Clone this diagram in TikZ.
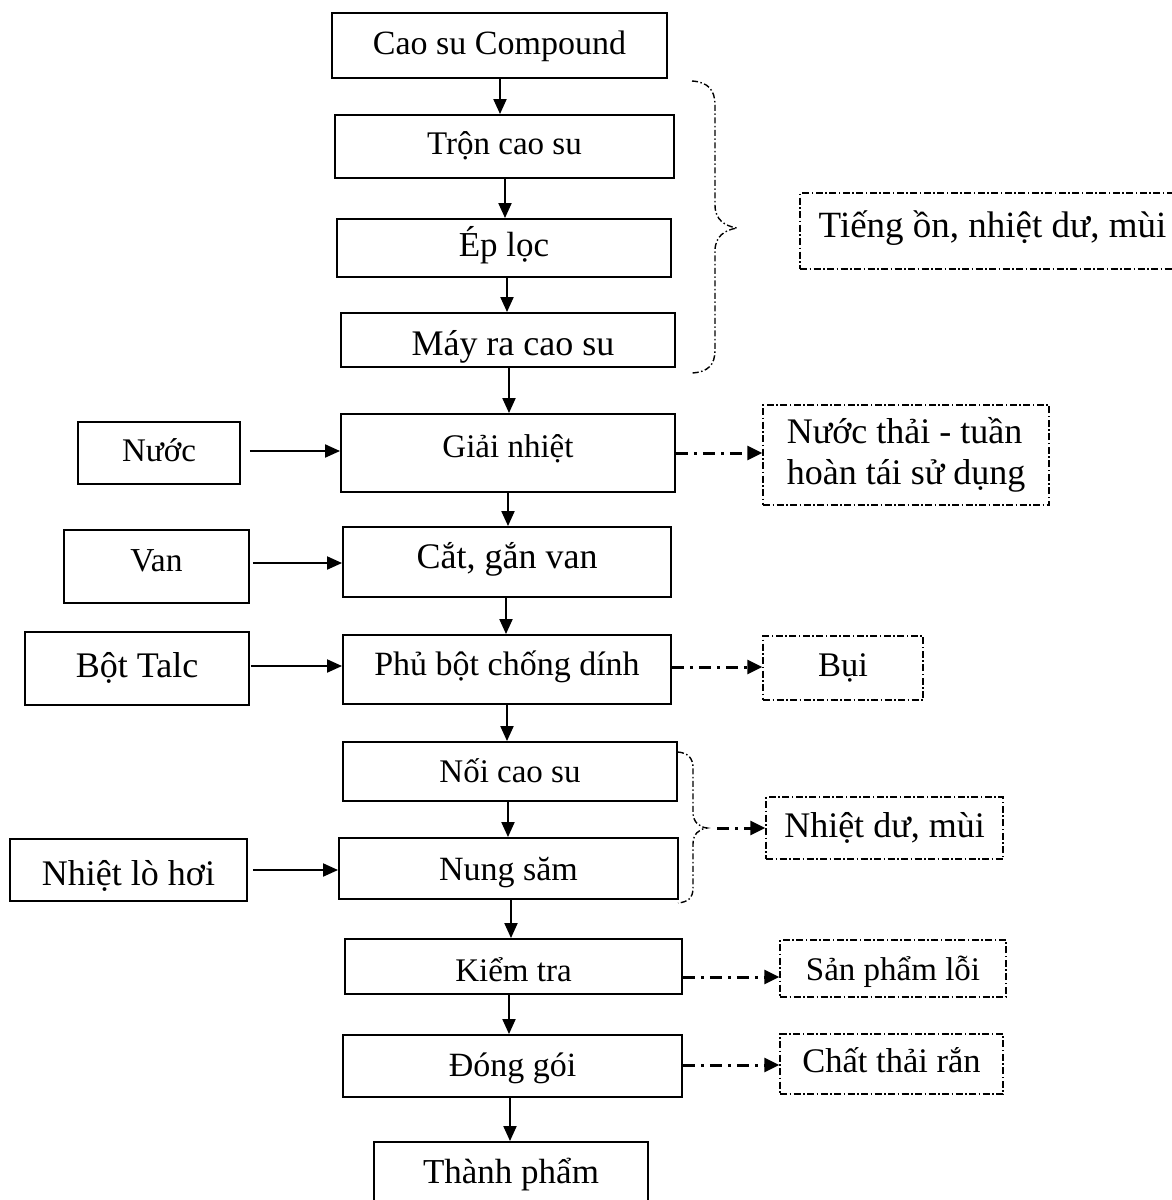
\documentclass[tikz,border=0pt]{standalone}
\usepackage{fontspec}
\setmainfont{Liberation Serif}
\usetikzlibrary{arrows.meta}
\begin{document}
\begin{tikzpicture}[x=1pt,y=-1pt,
  fs/.code={\pgfmathsetmacro\fsh{0.75*#1}\pgfmathsetmacro\fsd{0.25*#1}%
    \pgfkeysalso{font=\fontsize{#1pt}{41pt}\selectfont, text height=\fsh pt, text depth=\fsd pt}},
  procbox/.style={draw, line width=1.9pt, inner sep=0pt},
  wastebox/.style={draw, line width=1.4pt, inner sep=0pt,
    dash pattern=on 7pt off 2.5pt on 1.5pt off 2.5pt},
  flow/.style={line width=2pt, -{Triangle[length=15pt,width=13pt]}},
  emit/.style={line width=3pt, dash pattern=on 12pt off 6pt on 3pt off 6pt,
    -{Triangle[length=15pt,width=14pt]}},
  bracepath/.style={line width=1.4pt, dash pattern=on 6pt off 2.5pt on 1.5pt off 2.5pt},
]
\useasboundingbox (0,0) rectangle (1172,1200);
\clip (0,0) rectangle (1172,1200);

% main process column
\node[procbox, fs=34, minimum width=335pt, minimum height=65pt] (c1) at (499.5,45.5) {Cao su Compound};
\node[procbox, fs=33, minimum width=339pt, minimum height=63pt] (c2) at (504.5,146.5) {Trộn cao su};
\node[procbox, fs=35, minimum width=334pt, minimum height=58pt] (c3) at (504,248) {Ép lọc};
\node[procbox, fs=36, minimum width=334pt, minimum height=54pt] (c4) at (508,340) {\hspace*{10pt}\raisebox{-6pt}{Máy ra cao su}};
\node[procbox, fs=33, minimum width=334pt, minimum height=78pt] (c5) at (508,453) {\raisebox{4pt}{Giải nhiệt}};
\node[procbox, fs=36, minimum width=328pt, minimum height=70pt] (c6) at (507,562) {\raisebox{3pt}{Cắt, gắn van}};
\node[procbox, fs=34, minimum width=328pt, minimum height=69pt] (c7) at (507,669.5) {\raisebox{3pt}{Phủ bột chống dính}};
\node[procbox, fs=33, minimum width=334pt, minimum height=59pt] (c8) at (510,771.5) {\raisebox{-3pt}{Nối cao su}};
\node[procbox, fs=34, minimum width=339pt, minimum height=61pt] (c9) at (508.5,868.5) {\raisebox{-3pt}{Nung săm}};
\node[procbox, fs=33, minimum width=337pt, minimum height=55pt] (c10) at (513.5,966.5) {\raisebox{-7pt}{Kiểm tra}};
\node[procbox, fs=34, minimum width=339pt, minimum height=62pt] (c11) at (512.5,1066) {\raisebox{-2pt}{Đóng gói}};
\node[procbox, fs=35, minimum width=274pt, minimum height=73pt] (c12) at (511,1178.5) {\raisebox{4pt}{Thành phẩm}};

% inputs
\node[procbox, fs=33, minimum width=162pt, minimum height=62pt] (n1) at (159,453) {Nước};
\node[procbox, fs=33.5, minimum width=185pt, minimum height=73pt] (n2) at (156.5,566.5) {\raisebox{3pt}{Van}};
\node[procbox, fs=36, minimum width=224pt, minimum height=73pt] (n3) at (137,668.5) {Bột Talc};
\node[procbox, fs=36, minimum width=237pt, minimum height=62pt] (n4) at (128.5,870) {\raisebox{-6pt}{Nhiệt lò hơi}};

% emissions
\node[wastebox, fs=37, minimum width=385pt, minimum height=76pt] (o1) at (992.5,231) {\raisebox{3pt}{Tiếng ồn, nhiệt dư, mùi}};
\node[wastebox, font=\fontsize{36pt}{41pt}\selectfont, minimum width=286pt, minimum height=100pt, align=left] (o2) at (906,455) {Nước thải - tuần\\hoàn tái sử dụng};
\node[wastebox, fs=34.5, minimum width=160pt, minimum height=64pt] (o3) at (843,668) {Bụi};
\node[wastebox, fs=36, minimum width=237pt, minimum height=62pt] (o4) at (884.5,828) {Nhiệt dư, mùi};
\node[wastebox, fs=33, minimum width=226pt, minimum height=57pt] (o5) at (893,968.5) {\raisebox{-4pt}{Sản phẩm lỗi}};
\node[wastebox, fs=34.5, minimum width=223pt, minimum height=60pt] (o6) at (891.5,1064) {Chất thải rắn};

% main flow
\draw[flow] ([xshift=0.5]c1.south) -- ([xshift=-4.5]c2.north);
\draw[flow] ([xshift=0.5]c2.south) -- ([xshift=1]c3.north);
\draw[flow] ([xshift=3]c3.south) -- ([xshift=-1]c4.north);
\draw[flow] ([xshift=1]c4.south) -- ([xshift=1]c5.north);
\draw[flow] ([xshift=0]c5.south) -- ([xshift=1]c6.north);
\draw[flow] ([xshift=-1]c6.south) -- ([xshift=-1]c7.north);
\draw[flow] ([xshift=0]c7.south) -- ([xshift=-3]c8.north);
\draw[flow] ([xshift=-2]c8.south) -- ([xshift=-0.5]c9.north);
\draw[flow] ([xshift=2.5]c9.south) -- ([xshift=-2.5]c10.north);
\draw[flow] ([xshift=-4.5]c10.south) -- ([xshift=-3.5]c11.north);
\draw[flow] ([xshift=-2.5]c11.south) -- ([xshift=-1]c12.north);

% inputs into the process
\draw[flow, shorten <=9pt] ([yshift=2]n1.east) -- ([yshift=2]n1.east -| c5.west);
\draw[flow, shorten <=3pt] ([yshift=3.5]n2.east) -- ([yshift=3.5]n2.east -| c6.west);
\draw[flow, shorten <=1pt] ([yshift=2.5]n3.east) -- ([yshift=2.5]n3.east -| c7.west);
\draw[flow, shorten <=5pt] (n4.east) -- (n4.east -| c9.west);

% braces grouping steps
\draw[bracepath] (692,81) .. controls (708,82) and (715,90) .. (715,105) -- (715,205)
  .. controls (715,220) and (725,226) .. (737,228)
  .. controls (725,230) and (715,236) .. (715,251) -- (715,350)
  .. controls (715,365) and (708,372) .. (692,373);
\draw[bracepath] (678,752) .. controls (688,753) and (693,758) .. (693,768) -- (693,812)
  .. controls (693,822) and (699,827) .. (707,828)
  .. controls (699,829) and (693,834) .. (693,844) -- (693,888)
  .. controls (693,898) and (688,902) .. (678,903);
\coordinate (b2) at (707,828);

% emissions out of the process
\draw[emit] (c5.east) -- (c5.east -| o2.west);
\draw[emit] ([yshift=2.5]c7.east) -- ([yshift=2.5]c7.east -| o3.west);
\draw[emit, shorten <=10pt] (b2) -- (b2 -| o4.west);
\draw[emit] ([yshift=-10.5]c10.east) -- ([yshift=-10.5]c10.east -| o5.west);
\draw[emit] ([yshift=1]c11.east) -- ([yshift=1]c11.east -| o6.west);
\end{tikzpicture}
\end{document}
